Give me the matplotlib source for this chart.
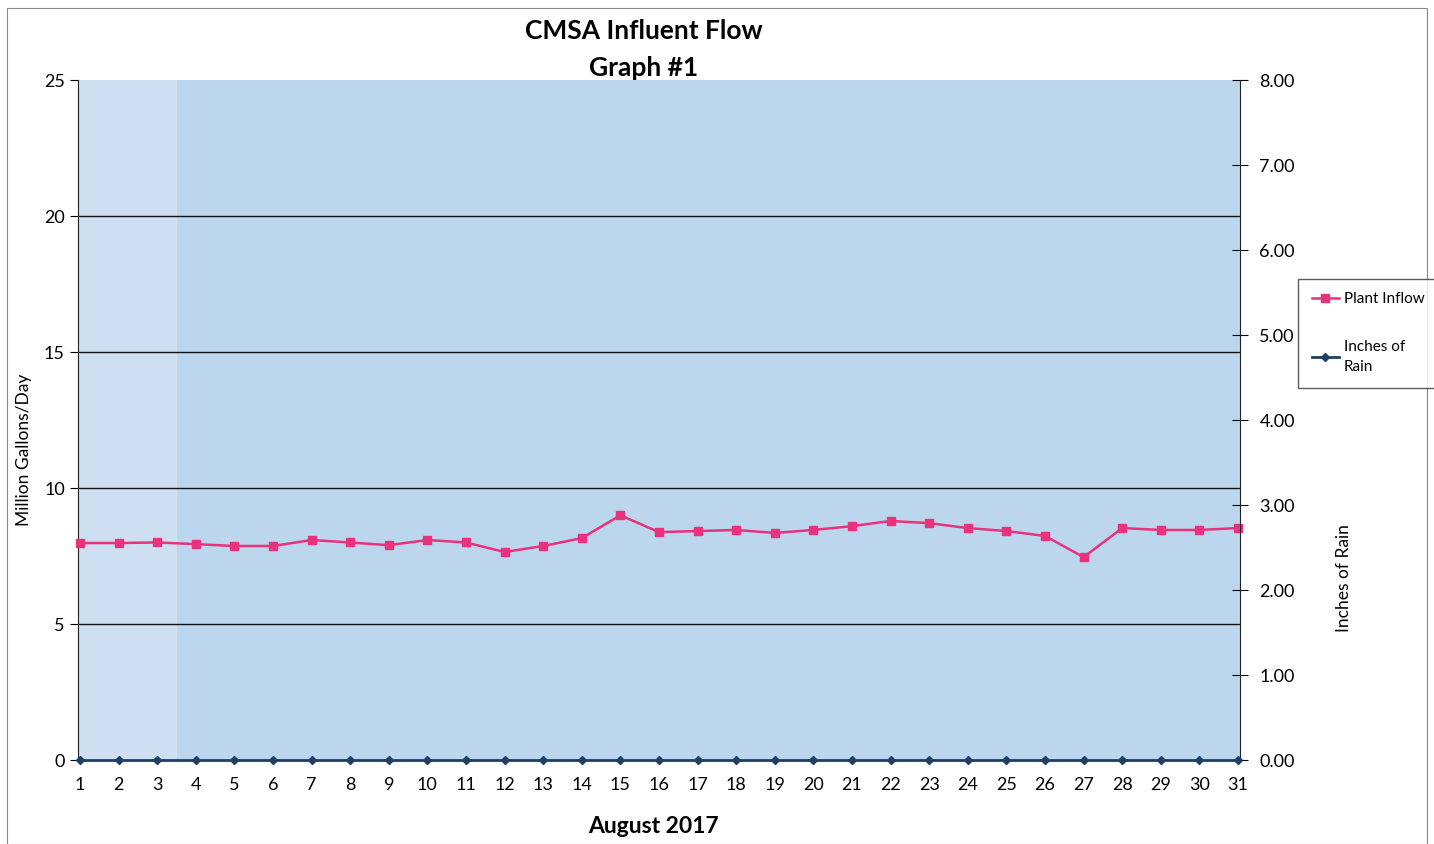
import matplotlib.pyplot as plt
from matplotlib.patches import Rectangle
from matplotlib.ticker import FormatStrFormatter

plt.rcParams['font.family'] = ['Lato', 'DejaVu Sans']

days = list(range(1, 32))
plant_inflow = [7.98, 7.98, 8.00, 7.94, 7.87, 7.87, 8.09, 8.00, 7.90, 8.09,
                8.00, 7.65, 7.87, 8.16, 9.00, 8.38, 8.42, 8.46, 8.35, 8.46,
                8.60, 8.79, 8.71, 8.53, 8.42, 8.24, 7.46, 8.53, 8.46, 8.46,
                8.53]
inches_rain = [0.0] * 31

pink = '#e8327c'
navy = '#1f3f66'

fig = plt.figure(figsize=(14.34, 8.44), dpi=100)
fig.patches.append(Rectangle((0.005, 0.0), 0.99, 0.99, transform=fig.transFigure,
                             fill=False, edgecolor='#888888', linewidth=0.8))

ax = fig.add_axes([0.0544, 0.0995, 0.8103, 0.8055])
ax.set_facecolor('#bcd6ee')
ax.axvspan(0.95, 3.5, color='#cddff1', zorder=0)

ax.plot(days, plant_inflow, '-s', color=pink, markersize=6, linewidth=1.8,
        label='Plant Inflow', zorder=4, clip_on=False)
ax.set_ylim(0, 25)
ax.set_yticks([0, 5, 10, 15, 20, 25])
ax.set_xlim(0.95, 31.05)
ax.set_xticks(days)
for g in [5, 10, 15, 20]:
    ax.axhline(g, color='#111111', linewidth=1.0, zorder=1)
ax.tick_params(axis='y', direction='out', length=6, labelsize=13)
ax.tick_params(axis='x', length=0, labelsize=13, pad=12)
ax.set_ylabel('Million Gallons/Day', fontsize=12.5)
ax.yaxis.set_label_coords(-0.04, 0.456)
ax.set_xlabel('August 2017', fontsize=16.5, fontweight='bold')
ax.xaxis.set_label_coords(0.495, -0.082)
for s in ['top', 'right']:
    ax.spines[s].set_visible(False)
ax.spines['left'].set_color('#222222')
ax.spines['bottom'].set_visible(False)

fig.text(0.449, 0.963, 'CMSA Influent Flow', ha='center', va='center',
         fontsize=19, fontweight='bold')
fig.text(0.449, 0.920, 'Graph #1', ha='center', va='center',
         fontsize=19, fontweight='bold')

ax2 = ax.twinx()
ax2.plot(days, inches_rain, '-D', color=navy, markersize=4, linewidth=2.0,
         label='Inches of\nRain', zorder=5, clip_on=False)
ax2.set_ylim(0, 8)
ax2.set_yticks(range(0, 9))
ax2.yaxis.set_major_formatter(FormatStrFormatter('%.2f'))
ax2.tick_params(axis='y', direction='inout', length=12, labelsize=13, pad=8)
ax2.set_ylabel('Inches of Rain', fontsize=12.5)
ax2.yaxis.set_label_coords(1.083, 0.268)
for s in ['top', 'left', 'bottom']:
    ax2.spines[s].set_visible(False)
ax2.spines['right'].set_color('#222222')

h1, l1 = ax.get_legend_handles_labels()
h2, l2 = ax2.get_legend_handles_labels()
leg = fig.legend(h1 + h2, l1 + l2, loc='upper left', bbox_to_anchor=(0.905, 0.67),
                 fontsize=11, frameon=True, fancybox=False, edgecolor='#333333',
                 handlelength=1.8, handletextpad=0.3, labelspacing=2.2,
                 borderpad=0.9, borderaxespad=0)
for t in leg.get_texts():
    t.set_linespacing(1.6)

fig.savefig('out.png', dpi=100)
